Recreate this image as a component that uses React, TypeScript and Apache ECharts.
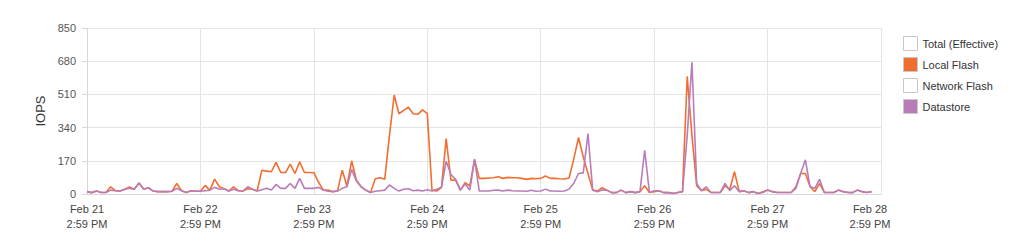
import React, { useEffect, useRef } from "react";
import * as echarts from "echarts";

const dayLabels = ["Feb 21", "Feb 22", "Feb 23", "Feb 24", "Feb 25", "Feb 26", "Feb 27", "Feb 28"];
const timeLabel = "2:59 PM";
const yTicks = [0, 170, 340, 510, 680, 850];
const seriesNames = ["Total (Effective)", "Local Flash", "Network Flash", "Datastore"];

// hourly samples starting Feb 21 2:59 PM
const localFlash = [
  12, 7, 15, 8, 8, 37, 17, 15, 24, 36, 24, 56, 24, 32, 15, 12, 12, 12, 14, 54,
  17, 8, 17, 14, 14, 44, 20, 76, 37, 27, 15, 37, 17, 15, 27, 24, 15, 122, 117, 114,
  162, 110, 110, 153, 105, 165, 110, 110, 109, 60, 20, 20, 12, 15, 122, 41, 170, 71, 37, 20,
  8, 78, 83, 76, 300, 507, 411, 428, 445, 411, 408, 431, 411, 20, 15, 34, 284, 71, 71, 20,
  58, 41, 177, 80, 80, 82, 83, 88, 80, 85, 83, 83, 80, 75, 80, 78, 80, 92, 80, 80,
  78, 77, 82, 180, 289, 190, 105, 20, 15, 32, 20, 7, 7, 20, 7, 12, 7, 12, 42, 8,
  12, 17, 7, 7, 3, 8, 12, 602, 300, 42, 17, 24, 8, 8, 8, 42, 24, 114, 12, 17,
  7, 12, 3, 12, 20, 12, 8, 8, 8, 8, 37, 105, 105, 37, 12, 54, 8, 8, 8, 20,
  12, 8, 7, 20, 12, 8, 12,
];
const datastore = [
  12, 7, 15, 8, 8, 20, 17, 15, 24, 29, 24, 56, 24, 32, 15, 12, 12, 12, 14, 29,
  17, 8, 17, 14, 14, 17, 20, 34, 24, 27, 15, 24, 17, 15, 37, 24, 15, 22, 29, 20,
  49, 29, 29, 54, 29, 80, 29, 29, 29, 34, 20, 14, 12, 15, 29, 37, 126, 66, 37, 20,
  8, 14, 17, 20, 46, 29, 15, 24, 27, 17, 20, 15, 22, 15, 24, 34, 168, 100, 75, 20,
  51, 20, 177, 15, 15, 15, 19, 20, 15, 20, 17, 15, 15, 14, 19, 14, 15, 25, 15, 15,
  14, 15, 25, 55, 105, 108, 309, 20, 12, 20, 20, 7, 7, 20, 7, 12, 7, 12, 224, 8,
  17, 17, 7, 7, 3, 8, 12, 300, 675, 54, 17, 37, 8, 8, 8, 54, 17, 42, 12, 17,
  7, 12, 3, 8, 20, 12, 8, 8, 8, 8, 29, 105, 175, 37, 29, 75, 8, 8, 8, 20,
  12, 8, 7, 20, 12, 8, 12,
];
const totalEffective: number[] = [];
const networkFlash: number[] = [];

const ORANGE = "#f26d30";
const PURPLE = "#b87db9";
const FONT = "Liberation Sans, Arial, sans-serif";

export default function App() {
  const ref = useRef<HTMLDivElement>(null);
  useEffect(() => {
    if (!ref.current) return;
    const chart = echarts.init(ref.current, null, { renderer: "svg" });
    const pairs = (arr: number[]) => arr.map((v, i) => [i, v]);
    const legendItem = (name: string, color: string) => ({
      name,
      icon: "rect",
      itemStyle: { color, borderColor: "#c8c8c8", borderWidth: 1 },
    });
    chart.setOption({
      animation: false,
      textStyle: { fontFamily: FONT },
      grid: { left: 79, right: 135, top: 20, bottom: 48, containLabel: false },
      legend: {
        orient: "vertical",
        left: 895,
        top: 28,
        padding: 0,
        itemWidth: 14,
        itemHeight: 14,
        itemGap: 6,
        textStyle: { fontSize: 11, color: "#333", fontFamily: FONT },
        data: [
          legendItem(seriesNames[0], "#ffffff"),
          legendItem(seriesNames[1], ORANGE),
          legendItem(seriesNames[2], "#ffffff"),
          legendItem(seriesNames[3], PURPLE),
        ],
      },
      xAxis: {
        type: "value",
        min: 0,
        max: 168,
        interval: 24,
        axisLine: { show: true, lineStyle: { color: "#d8d8d8" } },
        axisTick: { show: false },
        splitLine: { show: true, lineStyle: { color: "#e4e4e4" } },
        axisLabel: {
          margin: 7,
          fontSize: 11,
          color: "#444",
          lineHeight: 15,
          fontFamily: FONT,
          formatter: (v: number) => {
            const i = Math.round(v / 24);
            if (i === dayLabels.length - 1) {
              return `{last|${dayLabels[i]}}\n{last|${timeLabel}}`;
            }
            return `${dayLabels[i]}\n${timeLabel}`;
          },
          rich: {
            last: { fontSize: 11, color: "#444", lineHeight: 15, padding: [0, 22, 0, 0], fontFamily: FONT },
          },
        },
      },
      yAxis: {
        type: "value",
        min: 0,
        max: 850,
        interval: 170,
        name: "IOPS",
        nameLocation: "middle",
        nameGap: 29,
        nameRotate: 90,
        nameTextStyle: { fontSize: 13, color: "#333", fontFamily: FONT },
        axisLine: { show: true, lineStyle: { color: "#d8d8d8" } },
        axisTick: { show: true, length: 5, lineStyle: { color: "#d8d8d8" } },
        splitLine: { show: true, lineStyle: { color: "#e4e4e4" } },
        axisLabel: {
          margin: 11,
          fontSize: 11,
          color: "#555",
          fontFamily: FONT,
          formatter: (v: number) => (yTicks.includes(v) ? String(v) : ""),
        },
      },
      series: [
        {
          name: seriesNames[0],
          type: "line",
          data: pairs(totalEffective),
          showSymbol: false,
          itemStyle: { color: "#ffffff" },
        },
        {
          name: seriesNames[1],
          type: "line",
          data: pairs(localFlash),
          showSymbol: false,
          lineStyle: { width: 1.6, color: ORANGE },
          itemStyle: { color: ORANGE },
        },
        {
          name: seriesNames[2],
          type: "line",
          data: pairs(networkFlash),
          showSymbol: false,
          itemStyle: { color: "#ffffff" },
        },
        {
          name: seriesNames[3],
          type: "line",
          data: pairs(datastore),
          showSymbol: false,
          lineStyle: { width: 1.6, color: PURPLE },
          itemStyle: { color: PURPLE },
        },
      ],
    });
    return () => chart.dispose();
  }, []);
  return <div ref={ref} style={{ width: 1008, height: 234 }} />;
}
